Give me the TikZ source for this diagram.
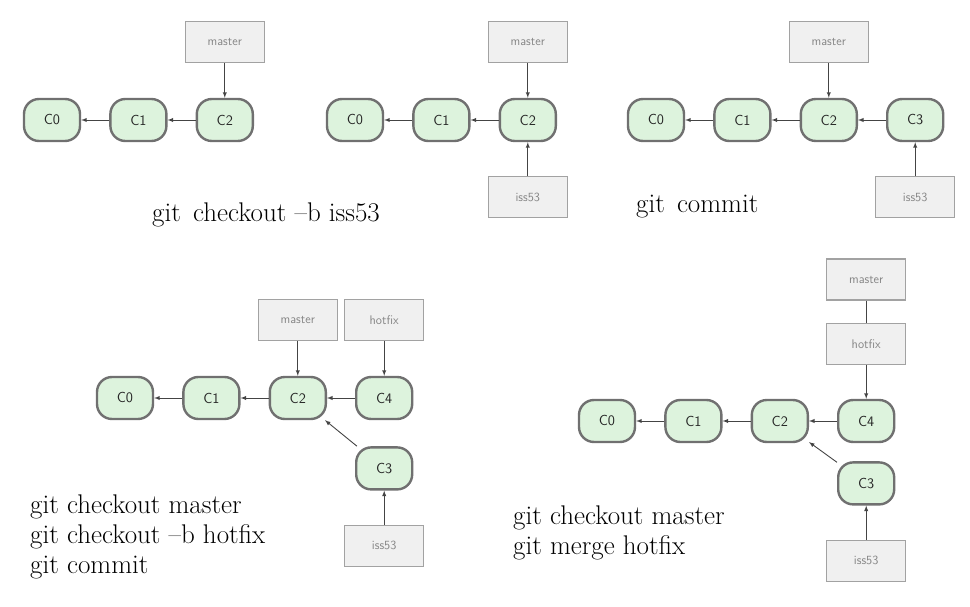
\documentclass[tikz,border=0pt]{standalone}
\usepackage{tikz}
\usetikzlibrary{arrows,positioning}
\definecolor{commitfill}{HTML}{DDF3DD}
\definecolor{commitdraw}{HTML}{707070}
\definecolor{branchfill}{HTML}{F0F0F0}
\definecolor{branchdraw}{HTML}{A2A2A2}
\definecolor{branchtext}{HTML}{858585}
\definecolor{linkcolor}{HTML}{444444}

\begin{document}
\begin{tikzpicture}[x=1pt,y=-1pt,node distance=28pt,>=latex]
    \tikzstyle{commit}=[rectangle,rounded corners=15pt,line width=2.4pt,draw=commitdraw,fill=commitfill,minimum width=56pt,minimum height=42pt,text=black!85,font=\sffamily\fontsize{14.5}{16}\selectfont]
    \tikzstyle{branch}=[rectangle,line width=1.2pt,draw=branchdraw,fill=branchfill,minimum width=79pt,minimum height=41pt,text=branchtext,font=\sffamily\fontsize{12.5}{14}\selectfont]
    \tikzstyle{link}=[->,draw=linkcolor,line width=0.9pt]
    \tikzstyle{cmd}=[inner sep=0pt,align=left,font=\fontsize{27}{30}\selectfont]
    \useasboundingbox (0,0) rectangle (970,607);
    % git checkout -b iss53 (before)
    \begin{scope}
      \node[commit](a0) at (52,120){C0};
      \node[commit,right=of a0](a1){C1} edge [link] (a0);
      \node[commit,right=of a1](a2){C2} edge [link] (a1);
      \node[branch,above=35pt of a2](amaster){master} edge [link] (a2);
      \node[cmd,anchor=base west](acmd) at (152,222){git\hspace{0.45em}checkout --b iss53};
    \end{scope}
    % git checkout -b iss53 (after)
    \begin{scope}
      \node[commit](b0) at (355,120){C0};
      \node[commit,right=of b0](b1){C1} edge [link] (b0);
      \node[commit,right=of b1](b2){C2} edge [link] (b1);
      \node[branch,above=35pt of b2](bmaster){master} edge [link] (b2);
      \node[branch,below=34pt of b2](biss){iss53} edge [link] (b2);
    \end{scope}
    % git commit
    \begin{scope}
      \node[commit](c0) at (656,120){C0};
      \node[commit,right=of c0](c1){C1} edge [link] (c0);
      \node[commit,right=of c1](c2){C2} edge [link] (c1);
      \node[commit,right=of c2](c3){C3} edge [link] (c2);
      \node[branch,above=35pt of c2](cmaster){master} edge [link] (c2);
      \node[branch,below=34pt of c3](ciss){iss53} edge [link] (c3);
      \node[cmd,anchor=base west](ccmd) at (636,212){git\hspace{0.45em}commit};
    \end{scope}
    % hotfix branch
    \begin{scope}
      \node[commit](d0) at (125,398){C0};
      \node[commit,right=of d0](d1){C1} edge [link] (d0);
      \node[commit,right=of d1](d2){C2} edge [link] (d1);
      \node[commit,right=of d2](d4){C4} edge [link] (d2);
      \node[commit,below=26pt of d4](d3){C3} edge [link] (d2);
      \node[branch,above=35pt of d2](dmaster){master} edge [link] (d2);
      \node[branch,above=35pt of d4](dhotfix){hotfix} edge [link] (d4);
      \node[branch,below=34pt of d3](diss){iss53} edge [link] (d3);
      \node[cmd,anchor=base west](dcmd) at (30,573){git checkout master\\git checkout --b hotfix\\git commit};
    \end{scope}
    % merge hotfix
    \begin{scope}
      \node[commit](e0) at (607,421){C0};
      \node[commit,right=of e0](e1){C1} edge [link] (e0);
      \node[commit,right=of e1](e2){C2} edge [link] (e1);
      \node[commit,right=of e2](e4){C4} edge [link] (e2);
      \node[commit,below=18pt of e4](e3){C3} edge [link] (e2);
      \node[branch,above=34pt of e4](ehotfix){hotfix} edge [link] (e4);
      \node[branch,above=22pt of ehotfix](emaster){master} edge [draw=linkcolor,line width=0.9pt] (ehotfix);
      \node[branch,below=34pt of e3](eiss){iss53} edge [link] (e3);
      \node[cmd,anchor=base west](ecmd) at (513,554){git checkout master\\git merge hotfix};
    \end{scope}
\end{tikzpicture}
\end{document}
